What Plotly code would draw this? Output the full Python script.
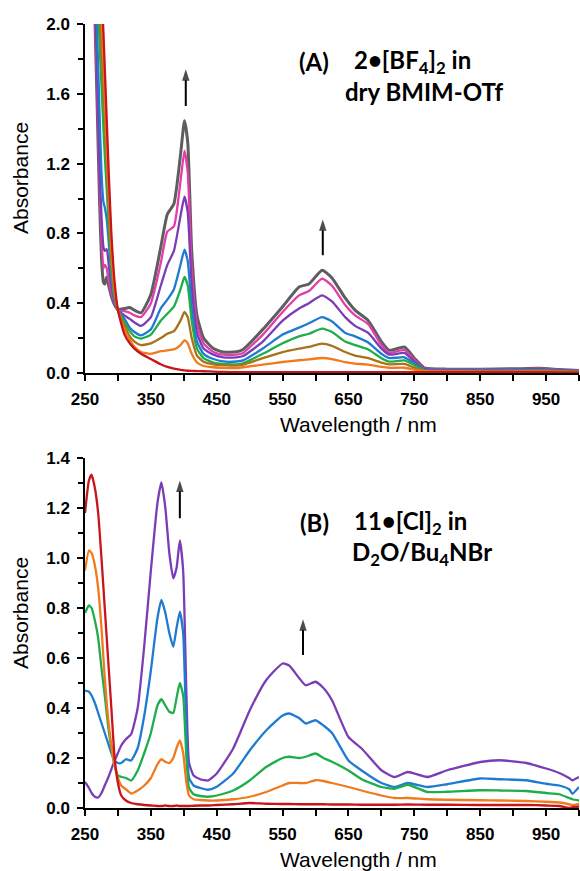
import plotly.graph_objects as go

# ---------------- data ----------------
# Panel A: 2•[BF4]2 in dry BMIM-OTf
wl_A = [255, 265, 268, 272, 275, 278, 280, 283, 286, 290,
        295, 300, 310, 318, 325, 335, 350, 365, 375, 385,
        395, 401, 406, 412, 420, 430, 445, 460, 480, 490,
        520, 550, 575, 590, 610, 625, 645, 660, 680, 700,
        712, 735, 750, 765, 800, 850, 900, 940, 970, 1000]

A_red = [4.0, 3.2, 2.9, 2.5, 2.2, 1.95, 1.75, 1.45, 1.15, 0.8,
         0.52, 0.36, 0.22, 0.17, 0.14, 0.11, 0.08, 0.05, 0.035, 0.025,
         0.018, 0.015, 0.013, 0.012, 0.011, 0.01, 0.008, 0.006, 0.005, 0.005,
         0.005, 0.005, 0.005, 0.005, 0.005, 0.005, 0.005, 0.005, 0.005, 0.005,
         0.005, 0.005, 0.005, 0.005, 0.005, 0.005, 0.005, 0.005, 0.004, 0.004]
A_orange = [4.0, 3.0, 2.7, 2.3, 2.05, 1.8, 1.6, 1.3, 1.05, 0.72,
            0.48, 0.36, 0.25, 0.19, 0.15, 0.12, 0.11, 0.125, 0.13, 0.135,
            0.16, 0.187, 0.17, 0.11, 0.06, 0.04, 0.033, 0.03, 0.028, 0.033,
            0.048, 0.063, 0.073, 0.078, 0.086, 0.08, 0.062, 0.054, 0.048, 0.035,
            0.03, 0.03, 0.02, 0.01, 0.008, 0.007, 0.007, 0.008, 0.006, 0.005]
A_brown = [4.0, 2.9, 2.5, 2.1, 1.85, 1.6, 1.45, 1.2, 0.95, 0.66,
           0.45, 0.36, 0.27, 0.21, 0.18, 0.16, 0.17, 0.2, 0.225, 0.24,
           0.3, 0.35, 0.32, 0.2, 0.1, 0.065, 0.05, 0.045, 0.042, 0.048,
           0.085, 0.12, 0.14, 0.15, 0.168, 0.155, 0.12, 0.1, 0.085, 0.06,
           0.05, 0.052, 0.03, 0.012, 0.01, 0.01, 0.01, 0.012, 0.009, 0.007]
A_green = [4.0, 2.6, 2.3, 1.9, 1.65, 1.4, 1.25, 1.05, 0.85, 0.6,
           0.43, 0.36, 0.29, 0.24, 0.21, 0.197, 0.22, 0.3, 0.34, 0.38,
           0.48, 0.55, 0.5, 0.3, 0.14, 0.085, 0.06, 0.052, 0.05, 0.056,
           0.11, 0.17, 0.21, 0.225, 0.254, 0.235, 0.18, 0.16, 0.135, 0.085,
           0.065, 0.072, 0.045, 0.015, 0.012, 0.012, 0.012, 0.015, 0.011, 0.008]
A_blue = [4.0, 2.3, 2.0, 1.5, 1.15, 0.98, 0.95, 0.88, 0.75, 0.56,
          0.42, 0.36, 0.31, 0.26, 0.235, 0.216, 0.25, 0.37, 0.42, 0.48,
          0.62, 0.707, 0.64, 0.38, 0.18, 0.11, 0.08, 0.066, 0.066, 0.072,
          0.14, 0.22, 0.26, 0.285, 0.32, 0.295, 0.23, 0.21, 0.175, 0.11,
          0.085, 0.09, 0.055, 0.018, 0.015, 0.015, 0.016, 0.018, 0.013, 0.01]
A_purple = [4.0, 2.15, 1.8, 1.2, 0.9, 0.72, 0.7, 0.71, 0.62, 0.5,
            0.41, 0.36, 0.33, 0.31, 0.29, 0.27, 0.32, 0.5, 0.62, 0.7,
            0.9, 1.01, 0.92, 0.5, 0.23, 0.14, 0.105, 0.09, 0.09, 0.097,
            0.18, 0.3, 0.37, 0.4, 0.445, 0.41, 0.32, 0.27, 0.23, 0.14,
            0.105, 0.115, 0.065, 0.022, 0.018, 0.018, 0.02, 0.022, 0.016, 0.012]
A_magenta = [4.0, 2.1, 1.7, 1.1, 0.78, 0.6, 0.62, 0.6, 0.53, 0.46,
             0.4, 0.36, 0.355, 0.345, 0.33, 0.32, 0.4, 0.63, 0.81, 0.84,
             1.1, 1.273, 1.15, 0.6, 0.28, 0.17, 0.12, 0.105, 0.105, 0.115,
             0.22, 0.35, 0.445, 0.47, 0.541, 0.5, 0.39, 0.33, 0.28, 0.16,
             0.115, 0.132, 0.075, 0.025, 0.02, 0.02, 0.022, 0.025, 0.018, 0.013]
A_gray = [4.0, 2.05, 1.6, 1.0, 0.66, 0.52, 0.51, 0.55, 0.5, 0.44,
          0.39, 0.365, 0.37, 0.375, 0.36, 0.345, 0.45, 0.72, 0.91, 0.97,
          1.25, 1.445, 1.32, 0.7, 0.33, 0.2, 0.14, 0.12, 0.122, 0.135,
          0.25, 0.38, 0.493, 0.51, 0.589, 0.545, 0.43, 0.36, 0.3, 0.18,
          0.13, 0.149, 0.085, 0.03, 0.022, 0.022, 0.024, 0.027, 0.02, 0.014]

# Panel B: 11•[Cl]2 in D2O/Bu4NBr
wl_B = [250, 256, 260, 265, 270, 275, 280, 285, 290, 295,
        300, 305, 312, 320, 330, 340, 350, 360, 366, 372,
        378, 384, 389, 394, 399, 404, 408, 415, 425, 437,
        450, 475, 500, 525, 550, 560, 575, 585, 600, 612,
        625, 650, 670, 700, 720, 740, 770, 800, 850, 880,
        920, 950, 970, 985, 990, 1000]

B_red = [1.18, 1.31, 1.333, 1.28, 1.18, 1.0, 0.8, 0.6, 0.4, 0.2,
         0.1, 0.05, 0.03, 0.02, 0.015, 0.012, 0.01, 0.008, 0.008, 0.01,
         0.008, 0.008, 0.01, 0.008, 0.008, 0.008, 0.008, 0.009, 0.01, 0.01,
         0.012, 0.015, 0.02, 0.017, 0.016, 0.016, 0.015, 0.015, 0.015, 0.015,
         0.014, 0.014, 0.013, 0.013, 0.013, 0.014, 0.013, 0.013, 0.012, 0.012,
         0.012, 0.01, 0.008, 0.0, 0.003, 0.006]
B_orange = [0.95, 1.03, 1.02, 0.97, 0.88, 0.72, 0.52, 0.36, 0.25, 0.17,
            0.12, 0.09, 0.075, 0.058, 0.07, 0.09, 0.12, 0.175, 0.195, 0.185,
            0.18, 0.2, 0.24, 0.27, 0.22, 0.1, 0.05, 0.035, 0.032, 0.03,
            0.03, 0.035, 0.045, 0.064, 0.09, 0.1, 0.1, 0.1, 0.111, 0.108,
            0.1, 0.084, 0.07, 0.05, 0.04, 0.04, 0.035, 0.033, 0.031, 0.03,
            0.028, 0.025, 0.022, 0.015, 0.012, 0.017]
B_green = [0.78, 0.81, 0.8, 0.75, 0.68, 0.56, 0.45, 0.33, 0.24, 0.17,
           0.13, 0.125, 0.12, 0.11, 0.15, 0.22, 0.3, 0.41, 0.435, 0.41,
           0.385, 0.38, 0.44, 0.5, 0.45, 0.2, 0.08, 0.055, 0.048, 0.045,
           0.05, 0.07, 0.11, 0.164, 0.2, 0.205, 0.2, 0.205, 0.218, 0.2,
           0.185, 0.15, 0.115, 0.084, 0.077, 0.093, 0.064, 0.065, 0.071, 0.07,
           0.068, 0.06, 0.055, 0.04, 0.035, 0.03]
B_blue = [0.47, 0.465, 0.45, 0.42, 0.38, 0.34, 0.3, 0.26, 0.22, 0.19,
          0.18, 0.18, 0.195, 0.19, 0.24, 0.37, 0.55, 0.76, 0.832, 0.78,
          0.7, 0.645, 0.72, 0.785, 0.7, 0.3, 0.12, 0.09, 0.08, 0.073,
          0.085, 0.138, 0.23, 0.31, 0.37, 0.378, 0.36, 0.338, 0.351, 0.33,
          0.3, 0.19, 0.15, 0.1, 0.084, 0.1, 0.084, 0.095, 0.118, 0.115,
          0.111, 0.097, 0.09, 0.075, 0.057, 0.084]
B_purple = [0.104, 0.08, 0.06, 0.045, 0.042, 0.06, 0.09, 0.12, 0.155, 0.19,
            0.22, 0.25, 0.275, 0.295, 0.4, 0.65, 0.95, 1.22, 1.302, 1.2,
            1.02, 0.919, 0.96, 1.07, 0.95, 0.45, 0.18, 0.13, 0.115, 0.11,
            0.138, 0.238, 0.39, 0.511, 0.578, 0.57, 0.52, 0.491, 0.505, 0.48,
            0.431, 0.284, 0.238, 0.151, 0.124, 0.144, 0.124, 0.151, 0.184, 0.191,
            0.18, 0.158, 0.14, 0.12, 0.111, 0.124]

x_ticks = [250, 350, 450, 550, 650, 750, 850, 950]

# "increase" arrows: (panel, wavelength, tail absorbance, head absorbance)
arrow_pos = [("A", 403, 1.53, 1.74), ("A", 611, 0.675, 0.88),
             ("B", 394, 1.159, 1.31), ("B", 581, 0.612, 0.755)]

# ---------------- styling ----------------
W, H = 580, 871
C = {"red": "#C8141B", "orange": "#F07A1E", "brown": "#A7721A", "green": "#1DAE4B",
     "blue": "#1F7BD2", "purple": "#7A3DB6", "magenta": "#E23DA8", "gray": "#5E5E5E"}

fig = go.Figure()

seriesA = [("gray", A_gray), ("magenta", A_magenta), ("purple", A_purple), ("blue", A_blue),
           ("green", A_green), ("brown", A_brown), ("orange", A_orange), ("red", A_red)]
for name, ys in seriesA:
    fig.add_trace(go.Scatter(x=wl_A, y=ys, mode="lines", xaxis="x", yaxis="y",
                             line=dict(color=C[name], width=3.0 if name == "gray" else 2.3,
                                       shape="spline", smoothing=0.5),
                             showlegend=False, hoverinfo="skip"))

seriesB = [("purple", B_purple), ("blue", B_blue), ("green", B_green),
           ("orange", B_orange), ("red", B_red)]
for name, ys in seriesB:
    fig.add_trace(go.Scatter(x=wl_B, y=ys, mode="lines", xaxis="x2", yaxis="y2",
                             line=dict(color=C[name], width=2.3, shape="spline", smoothing=0.5),
                             showlegend=False, hoverinfo="skip"))

# arrows drawn as short lines with an arrow-head marker at the end
for panel, xv, yt, yh in arrow_pos:
    xa, ya = ("x", "y") if panel == "A" else ("x2", "y2")
    fig.add_trace(go.Scatter(x=[xv, xv], y=[yt, yh], mode="lines+markers", xaxis=xa, yaxis=ya,
                             line=dict(color="black", width=2),
                             marker=dict(symbol="arrow", size=[0, 12], angleref="previous",
                                         color="black", line=dict(width=0)),
                             showlegend=False, hoverinfo="skip"))

tickfont = dict(family="Liberation Sans, Arial, sans-serif", size=17, color="black", weight="bold")
x_dom = [85 / W, 579 / W]


def xaxis(anchor):
    return dict(domain=x_dom, anchor=anchor, range=[250, 1000], tickmode="array",
                tickvals=x_ticks, ticks="outside", ticklen=6, tickwidth=1.5, tickcolor="black",
                showline=True, linecolor="black", linewidth=1.5, showgrid=False, zeroline=False,
                tickfont=tickfont, automargin=False, ticklabelstandoff=4,
                minor=dict(tick0=250, dtick=50, ticks="outside", ticklen=6, tickwidth=1.5,
                           tickcolor="black", showgrid=False))


def yaxis(anchor, dom, top, dt):
    return dict(domain=dom, anchor=anchor, range=[0, top], tick0=0, dtick=dt, tickformat=".1f",
                ticks="outside", ticklen=6, tickwidth=1.5, tickcolor="black",
                showline=True, linecolor="black", linewidth=1.5, showgrid=False, zeroline=False,
                tickfont=tickfont, automargin=False, ticklabelstandoff=4,
                minor=dict(tick0=0, dtick=dt / 2, ticks="outside", ticklen=5, tickwidth=1.5,
                           tickcolor="black", showgrid=False))


fig.update_layout(
    width=W, height=H, margin=dict(l=0, r=0, t=0, b=0),
    paper_bgcolor="white", plot_bgcolor="white", showlegend=False, hovermode=False,
    xaxis=xaxis("y"), yaxis=yaxis("x", [1 - 373 / H, 1 - 24 / H], 2.0, 0.4),
    xaxis2=xaxis("y2"), yaxis2=yaxis("x2", [1 - 808 / H, 1 - 458 / H], 1.4, 0.2),
)

ann = []
titlefont = dict(family="Liberation Sans, Arial, sans-serif", size=21, color="black")
for cy in (178, 613):
    ann.append(dict(text="Absorbance", xref="paper", yref="paper", x=20 / W, y=1 - cy / H,
                    textangle=-90, showarrow=False, font=titlefont,
                    xanchor="center", yanchor="middle"))
for cy in (425, 859):
    ann.append(dict(text="Wavelength / nm", xref="paper", yref="paper", x=358 / W, y=1 - cy / H,
                    showarrow=False, font=titlefont, xanchor="center", yanchor="middle"))

lab = dict(family="Lato, Noto Sans, sans-serif", size=24, color="black", weight="bold")
labels = [("(A)", 297, 62), ("2•[BF<sub>4</sub>]<sub>2</sub> in", 352, 62), ("dry BMIM-OTf", 343, 92),
          ("(B)", 298, 522), ("11•[Cl]<sub>2</sub> in", 352, 522),
          ("D<sub>2</sub>O/Bu<sub>4</sub>NBr", 350, 553)]
for t, px, py in labels:
    ann.append(dict(text=t, xref="paper", yref="paper", x=px / W, y=1 - py / H, showarrow=False,
                    font=lab, xanchor="left", yanchor="middle"))

fig.update_layout(annotations=ann)
fig.write_html("out.html")
